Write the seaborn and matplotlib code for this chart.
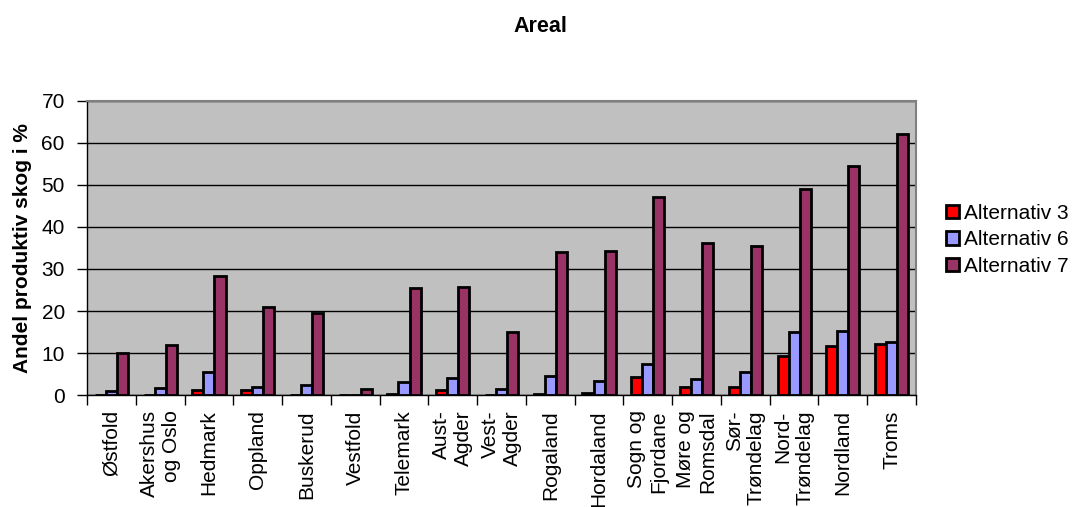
import matplotlib
matplotlib.use('Agg')
import matplotlib.pyplot as plt
import seaborn as sns
import pandas as pd
import numpy as np

fylker = ["Østfold", "Akershus\nog Oslo", "Hedmark", "Oppland", "Buskerud", "Vestfold",
          "Telemark", "Aust-\nAgder", "Vest-\nAgder", "Rogaland", "Hordaland",
          "Sogn og\nFjordane", "Møre og\nRomsdal", "Sør-\nTrøndelag", "Nord-\nTrøndelag",
          "Nordland", "Troms"]
serier = ["Alternativ 3", "Alternativ 6", "Alternativ 7"]
alt3 = [0, 0, 1.1, 1.2, 0.1, 0, 0.2, 1.2, 0.1, 0.2, 0.5, 4.4, 1.8, 1.8, 9.2, 11.7, 12.2]
alt6 = [0.9, 1.6, 5.4, 1.9, 2.4, 0.1, 3.1, 4.1, 1.5, 4.5, 3.4, 7.5, 3.8, 5.4, 14.9, 15.2, 12.6]
alt7 = [10.1, 11.8, 28.4, 21.0, 19.6, 1.5, 25.5, 25.7, 15.0, 34.0, 34.2, 47.2, 36.3, 35.4, 49.1, 54.5, 62.1]
farger = ["#FF0000", "#9999FF", "#993366"]

sns.set_style('white')
plt.rcParams['font.family'] = ['Liberation Sans', 'DejaVu Sans']
plt.rcParams['text.color'] = 'black'
plt.rcParams['axes.labelcolor'] = 'black'
plt.rcParams['xtick.color'] = 'black'
plt.rcParams['ytick.color'] = 'black'

df = pd.DataFrame({
    'fylke': fylker * 3,
    'serie': [s for s in serier for _ in fylker],
    'andel': alt3 + alt6 + alt7,
})

fig, ax = plt.subplots(figsize=(10.72, 5.07), dpi=100)
fig.subplots_adjust(left=0.0812, right=0.8545, top=0.8008, bottom=0.2209)
ax.set_facecolor('#C0C0C0')

sns.barplot(data=df, x='fylke', y='andel', hue='serie', palette=farger, width=0.68,
            edgecolor='black', linewidth=2.0, saturation=1, errorbar=None, ax=ax)

ax.set_ylim(0, 70)
ax.set_yticks(range(0, 71, 10))
ax.yaxis.grid(True, color='black', lw=1)
ax.set_axisbelow(True)
ax.tick_params(axis='y', length=7, width=1, direction='out', pad=9, labelsize=15, left=True)

ax.set_xlim(-0.5, 16.5)
ax.set_xticks(range(len(fylker)))
ax.set_xticklabels(fylker, rotation=90, va='top', ha='center', multialignment='right', fontsize=15)
ax.set_xticks(np.arange(-0.5, len(fylker), 1), minor=True)
ax.tick_params(axis='x', which='major', length=0, pad=11)
ax.tick_params(axis='x', which='minor', length=7, width=1, direction='out', bottom=True)
ax.set_xlabel('')

ax.set_ylabel('Andel produktiv skog i %', fontsize=15, fontweight='bold')
ax.yaxis.set_label_coords(-0.066, 0.5)

for s in ['top', 'right']:
    ax.spines[s].set_color('#808080')
    ax.spines[s].set_linewidth(1.5)
for s in ['left', 'bottom']:
    ax.spines[s].set_color('black')
    ax.spines[s].set_linewidth(1)

fig.text(0.504, 0.947, 'Areal', ha='center', va='center', fontsize=15.5, fontweight='bold')

handles, labels = ax.get_legend_handles_labels()
leg = ax.legend(handles, labels, loc='center left', bbox_to_anchor=(0.8825, 0.527),
                bbox_transform=fig.transFigure, frameon=False, fontsize=15,
                handlelength=0.6, handleheight=0.6, handletextpad=0.25,
                labelspacing=0.35, borderpad=0, borderaxespad=0)
for h in leg.legend_handles:
    h.set_edgecolor('black')
    h.set_linewidth(2.0)

fig.savefig('out.png', dpi=100)
